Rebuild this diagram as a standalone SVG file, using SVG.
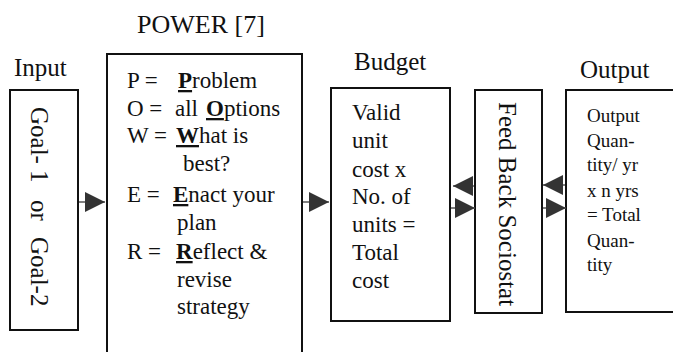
<svg xmlns="http://www.w3.org/2000/svg" width="673" height="352" viewBox="0 0 673 352">
<style>
.box{fill:#fff;stroke:#111;stroke-width:2}
.t{font-family:"Liberation Serif","Times New Roman",serif;fill:#111}
.lbl{font-size:25px}
.body{font-size:23px}
.small{font-size:19px}
.b{font-weight:bold;text-decoration:underline}
.conn{stroke:#555;stroke-width:1.5;fill:none}
</style>
<defs>
<marker id="ah" markerUnits="userSpaceOnUse" markerWidth="20" markerHeight="20" refX="20" refY="10" orient="auto">
<path d="M0,0 L20,10 L0,20 z" fill="#333"/>
</marker>
</defs>

<g id="input">
<text class="t lbl" x="14" y="76">Input</text>
<rect class="box" x="10" y="90" width="68" height="240"/>
<text class="t lbl" transform="translate(31,107) rotate(90)"><tspan x="0" y="0">Goal-</tspan><tspan x="63" y="0">1</tspan><tspan x="93" y="0">or</tspan><tspan x="130" y="0">Goal-2</tspan></text>
</g>

<g id="power">
<text class="t" font-size="26" x="137" y="33">POWER [7]</text>
<path class="box" d="M107,360 V54 H302 V360"/>
<text class="t body">
<tspan x="127" y="88">P =</tspan><tspan x="178" y="88"><tspan class="b">P</tspan>roblem</tspan>
<tspan x="127" y="116">O =</tspan><tspan x="175" y="116">all </tspan><tspan x="206" y="116"><tspan class="b">O</tspan>ptions</tspan>
<tspan x="127" y="143">W =</tspan><tspan x="176" y="143"><tspan class="b">W</tspan>hat is</tspan>
<tspan x="183" y="171">best?</tspan>
<tspan x="127" y="202">E =</tspan><tspan x="173" y="202"><tspan class="b">E</tspan>nact your</tspan>
<tspan x="177" y="230">plan</tspan>
<tspan x="127" y="259">R =</tspan><tspan x="176" y="259"><tspan class="b">R</tspan>eflect &amp;</tspan>
<tspan x="177" y="287">revise</tspan>
<tspan x="177" y="314">strategy</tspan>
</text>
</g>

<g id="budget">
<text class="t lbl" x="354" y="70">Budget</text>
<rect class="box" x="331" y="88" width="119" height="233"/>
<text class="t body">
<tspan x="352" y="120">Valid</tspan>
<tspan x="352" y="148">unit</tspan>
<tspan x="352" y="177">cost x</tspan>
<tspan x="352" y="204">No. of</tspan>
<tspan x="352" y="232">units =</tspan>
<tspan x="352" y="260">Total</tspan>
<tspan x="352" y="288">cost</tspan>
</text>
</g>

<g id="feedback">
<rect class="box" x="475" y="90" width="67" height="223"/>
<text class="t lbl" transform="translate(499,102) rotate(90)">Feed Back Sociostat</text>
</g>

<g id="output">
<text class="t lbl" x="580" y="78">Output</text>
<path class="box" d="M680,90 H566 V312 H680"/>
<text class="t small">
<tspan x="587" y="122">Output</tspan>
<tspan x="587" y="147">Quan-</tspan>
<tspan x="587" y="171">tity/ yr</tspan>
<tspan x="587" y="197">x n yrs</tspan>
<tspan x="587" y="221">= Total</tspan>
<tspan x="587" y="247">Quan-</tspan>
<tspan x="587" y="271">tity</tspan>
</text>
</g>

<g id="connectors">
<path class="conn" d="M79,202 H105" marker-end="url(#ah)"/>
<path class="conn" d="M303,202 H329" marker-end="url(#ah)"/>
<path class="conn" d="M474,186 H453" marker-end="url(#ah)"/>
<path class="conn" d="M451,208 H475" marker-end="url(#ah)"/>
<path class="conn" d="M565,185 H543" marker-end="url(#ah)"/>
<path class="conn" d="M543,208 H566" marker-end="url(#ah)"/>
</g>
</svg>
